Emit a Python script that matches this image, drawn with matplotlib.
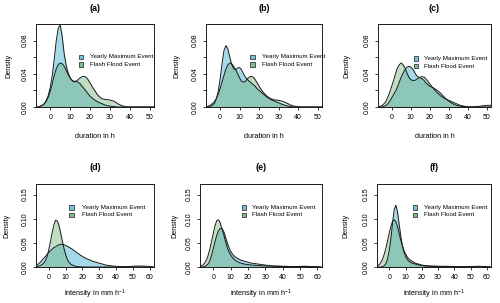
import matplotlib
matplotlib.use("Agg")
import matplotlib.pyplot as plt
from matplotlib.patches import Rectangle

plt.rcParams['font.family'] = ['Liberation Sans', 'DejaVu Sans']
plt.rcParams['mathtext.fontset'] = 'custom'
plt.rcParams['mathtext.rm'] = 'Liberation Sans'
plt.rcParams['mathtext.default'] = 'regular'

# ---------------- data ----------------
x_dur = list(range(-7, 21)) + list(range(22, 54, 2))
x_int = list(range(-8, 21)) + list(range(22, 64, 2))

a_yearly = [0, 0, 0.001, 0.002, 0.004, 0.008, 0.014, 0.024, 0.038, 0.058, 0.080, 0.095, 0.099, 0.085,
            0.064, 0.050, 0.041, 0.035, 0.032, 0.031, 0.031, 0.030, 0.028, 0.025, 0.022, 0.019, 0.016, 0.013,
            0.009, 0.006, 0.004, 0.002, 0.001, 0.0005, 0, 0, 0, 0, 0, 0, 0, 0, 0, 0]
a_flash = [0, 0, 0.001, 0.002, 0.004, 0.007, 0.012, 0.019, 0.028, 0.038, 0.046, 0.051, 0.053, 0.052,
           0.049, 0.044, 0.039, 0.035, 0.032, 0.030, 0.031, 0.033, 0.035, 0.0365, 0.037, 0.036, 0.033, 0.029,
           0.021, 0.014, 0.010, 0.009, 0.0085, 0.007, 0.004, 0.0015, 0.0003, 0, 0, 0, 0, 0, 0, 0]

b_yearly = [0, 0, 0.001, 0.002, 0.004, 0.009, 0.018, 0.033, 0.052, 0.068, 0.074, 0.070, 0.060, 0.051,
            0.046, 0.045, 0.047, 0.0475, 0.045, 0.040, 0.036, 0.033, 0.031, 0.029, 0.027, 0.025, 0.022, 0.020,
            0.016, 0.012, 0.009, 0.007, 0.005, 0.003, 0.0015, 0.0005, 0, 0, 0, 0, 0, 0, 0, 0]
b_flash = [0, 0.001, 0.002, 0.004, 0.006, 0.010, 0.015, 0.022, 0.030, 0.038, 0.046, 0.051, 0.053, 0.052,
           0.049, 0.045, 0.040, 0.035, 0.031, 0.030, 0.031, 0.034, 0.036, 0.037, 0.036, 0.033, 0.029, 0.025,
           0.018, 0.013, 0.010, 0.0085, 0.008, 0.007, 0.005, 0.0025, 0.001, 0.0002, 0, 0, 0, 0, 0, 0]

c_yearly = [0, 0, 0, 0.001, 0.002, 0.004, 0.007, 0.011, 0.015, 0.019, 0.024, 0.030, 0.036, 0.041,
            0.045, 0.048, 0.049, 0.048, 0.046, 0.042, 0.038, 0.036, 0.035, 0.034, 0.032, 0.029, 0.027, 0.025,
            0.023, 0.020, 0.016, 0.011, 0.007, 0.004, 0.002, 0.001, 0.0005, 0.0003, 0.0002, 0.0003, 0.0008,
            0.0015, 0.002, 0.002]
c_flash = [0, 0.001, 0.002, 0.004, 0.007, 0.012, 0.018, 0.025, 0.032, 0.040, 0.047, 0.051, 0.053, 0.051,
           0.047, 0.041, 0.036, 0.033, 0.032, 0.032, 0.033, 0.035, 0.036, 0.0365, 0.036, 0.034, 0.031, 0.028,
           0.022, 0.017, 0.013, 0.010, 0.008, 0.006, 0.004, 0.002, 0.001, 0.0003, 0, 0, 0, 0, 0, 0]

d_yearly = [0.003, 0.004, 0.007, 0.010, 0.014, 0.018, 0.022, 0.026, 0.030, 0.034, 0.037, 0.040, 0.042,
            0.044, 0.046, 0.047, 0.047, 0.046, 0.045, 0.043, 0.041, 0.039, 0.037, 0.034, 0.032, 0.029, 0.027,
            0.024, 0.022,
            0.018, 0.015, 0.012, 0.010, 0.008, 0.006, 0.004, 0.003, 0.002, 0.0015, 0.001, 0.0008, 0.0008,
            0.001, 0.0015, 0.002, 0.002, 0.002, 0.0015, 0.001, 0.0005]
d_flash = [0.0005, 0.001, 0.002, 0.003, 0.005, 0.008, 0.013, 0.022, 0.036, 0.053, 0.071, 0.087, 0.097,
           0.096, 0.087, 0.072, 0.055, 0.039, 0.026, 0.016, 0.010, 0.006, 0.004, 0.0025, 0.0015, 0.001,
           0.0005, 0.0003, 0.0002,
           0, 0, 0, 0, 0, 0, 0, 0, 0, 0, 0, 0, 0, 0, 0, 0, 0, 0, 0, 0, 0]

e_yearly = [0, 0, 0, 0.001, 0.003, 0.006, 0.012, 0.024, 0.038, 0.052, 0.065, 0.075, 0.080, 0.080, 0.074,
            0.063, 0.051, 0.041, 0.033, 0.027, 0.023, 0.020, 0.018, 0.016, 0.014, 0.013, 0.012, 0.011, 0.010,
            0.008, 0.007, 0.006, 0.005, 0.004, 0.003, 0.0025, 0.002, 0.002, 0.0015, 0.0015, 0.001, 0.001,
            0.001, 0.001, 0.001, 0.001, 0.0008, 0.0005, 0.0003, 0]
e_flash = [0.001, 0.002, 0.004, 0.008, 0.014, 0.023, 0.036, 0.052, 0.069, 0.085, 0.096, 0.098, 0.092,
           0.079, 0.068, 0.054, 0.041, 0.032, 0.025, 0.020, 0.016, 0.013, 0.011, 0.009, 0.008, 0.007, 0.006,
           0.0055, 0.005,
           0.004, 0.0035, 0.003, 0.0025, 0.002, 0.002, 0.0015, 0.0015, 0.001, 0.001, 0.001, 0.001, 0.001,
           0.001, 0.0012, 0.0015, 0.0015, 0.001, 0.0008, 0.0005, 0]

f_yearly = [0, 0, 0, 0, 0.001, 0.003, 0.008, 0.018, 0.035, 0.060, 0.092, 0.119, 0.128, 0.115, 0.090,
            0.065, 0.045, 0.031, 0.022, 0.016, 0.012, 0.010, 0.008, 0.007, 0.006, 0.005, 0.004, 0.0035, 0.003,
            0.002, 0.0015, 0.001, 0.001, 0.001, 0.001, 0.0008, 0.0005, 0.0003, 0.0002,
            0, 0, 0, 0, 0, 0, 0, 0, 0, 0, 0]
f_flash = [0.001, 0.003, 0.006, 0.011, 0.018, 0.028, 0.041, 0.056, 0.071, 0.085, 0.095, 0.098, 0.094,
           0.084, 0.070, 0.056, 0.044, 0.034, 0.027, 0.021, 0.017, 0.014, 0.012, 0.010, 0.008, 0.007, 0.006,
           0.005, 0.004,
           0.003, 0.0025, 0.002, 0.002, 0.0015, 0.0015, 0.0015, 0.0015, 0.001, 0.001, 0.001, 0.0008, 0.0008,
           0.0008, 0.001, 0.0012, 0.0015, 0.0015, 0.001, 0.001, 0.0005]

panel_titles = ["(a)", "(b)", "(c)", "(d)", "(e)", "(f)"]
legend_labels = ["Yearly Maximum Event", "Flash Flood Event"]
dur_xticks = [0, 10, 20, 30, 40, 50]
int_xticks = [0, 10, 20, 30, 40, 50, 60]
dur_yticks = [0.00, 0.02, 0.04, 0.06, 0.08]
dur_ylabels = ["0.00", "", "0.04", "", "0.08"]
int_yticks = [0.00, 0.05, 0.10, 0.15]
int_ylabels = ["0.00", "0.05", "0.10", "0.15"]

# ---------------- style ----------------
W, H = 500, 303
fig = plt.figure(figsize=(W / 100, H / 100), dpi=100)

BLUE = (0.31, 0.71, 0.84, 0.5)
GREEN = (0.40, 0.68, 0.44, 0.4)
BLUE_LEG = (0.31, 0.71, 0.84, 0.8)
GREEN_LEG = (0.40, 0.68, 0.44, 0.8)
LINE = '#1a1a1a'
FS_TICK = 5.0
FS_LAB = 5.2
FS_LEG = 4.5

# panel boxes in pixels: left, right, top, bottom
boxes = [(36, 154, 24, 107), (206, 322, 24, 107), (378, 491, 24, 107),
         (36, 154, 184, 267), (200, 322, 184, 267), (377, 491, 184, 267)]
# legend square centre x, text start x, first row y
leg_pos = [(81, 90.5, 56.7), (252.5, 261.5, 56.7), (416, 424.5, 58.5),
           (71.5, 81.5, 207.3), (244, 252.5, 207.3), (415, 423.5, 207.3)]
ylab_x = [9, 177, 347, 7, 175, 346]

series = [(x_dur, a_yearly, a_flash), (x_dur, b_yearly, b_flash), (x_dur, c_yearly, c_flash),
          (x_int, d_yearly, d_flash), (x_int, e_yearly, e_flash), (x_int, f_yearly, f_flash)]

for i, ((l, r, t, b), (xs, yy, ff)) in enumerate(zip(boxes, series)):
    ax = fig.add_axes([l / W, 1 - b / H, (r - l) / W, (b - t) / H])
    ax.fill_between(xs, yy, 0, color=BLUE, lw=0)
    ax.plot(xs, yy, color=LINE, lw=0.7)
    ax.fill_between(xs, ff, 0, color=GREEN, lw=0)
    ax.plot(xs, ff, color=LINE, lw=0.7)
    if i < 3:
        ax.set_xlim(-7.2, 52.2)
        ax.set_ylim(0, 0.1)
        ax.set_xticks(dur_xticks)
        ax.set_yticks(dur_yticks)
        ax.set_yticklabels(dur_ylabels, rotation=90, va='center')
        xlabel = "duration in h"
        ly = 136
    else:
        ax.set_xlim(-7.6, 62.6)
        ax.set_ylim(0, 0.172)
        ax.set_xticks(int_xticks)
        ax.set_yticks(int_yticks)
        ax.set_yticklabels(int_ylabels, rotation=90, va='center')
        xlabel = r"intensity in mm h$^{-1}$"
        ly = 294.5
    ax.tick_params(direction='out', length=2.2, width=0.6, labelsize=FS_TICK, pad=3.0, color=LINE)
    for s in ax.spines.values():
        s.set_linewidth(0.7)
        s.set_color(LINE)
    cx = (l + r) / 2
    fig.text(cx / W, 1 - ly / H, xlabel, ha='center', va='center', fontsize=FS_LAB)
    fig.text(ylab_x[i] / W, 1 - ((t + b) / 2) / H, "Density", rotation=90,
             ha='center', va='center', fontsize=FS_LAB)
    ty = 8.5 if i < 3 else 167.5
    fig.text(cx / W, 1 - ty / H, panel_titles[i], ha='center', va='center',
             fontsize=6.4, fontweight='bold')
    # legend (no frame)
    sx, tx, sy = leg_pos[i]
    for k, (lab, col) in enumerate(zip(legend_labels, [BLUE_LEG, GREEN_LEG])):
        yc = sy + k * 7.6
        fig.patches.append(Rectangle(((sx - 2.2) / W, 1 - (yc + 2.2) / H), 4.4 / W, 4.4 / H,
                                     transform=fig.transFigure, facecolor=col,
                                     edgecolor=LINE, lw=0.5))
        fig.text(tx / W, 1 - yc / H, lab, ha='left', va='center', fontsize=FS_LEG)

fig.savefig("out.png", dpi=100)
